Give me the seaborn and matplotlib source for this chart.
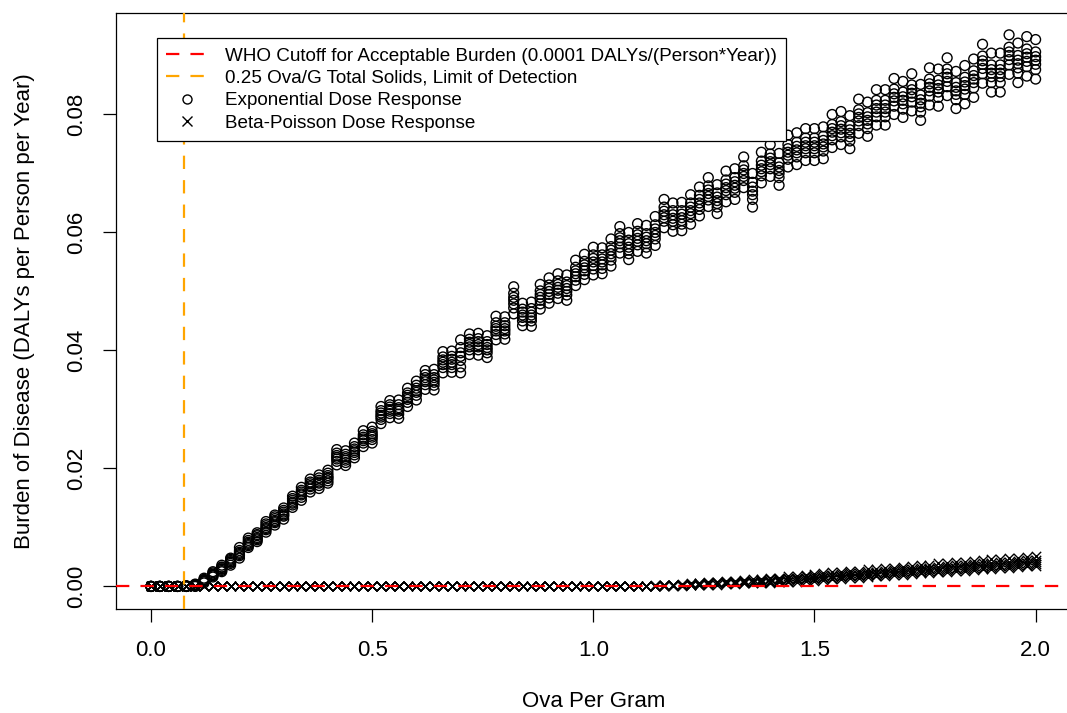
import matplotlib
matplotlib.use("Agg")
import matplotlib.pyplot as plt
from matplotlib.lines import Line2D
import numpy as np
import pandas as pd
import seaborn as sns

# ---------------- data ----------------
ova_per_gram = [
    0.00, 0.02, 0.04, 0.06, 0.08, 0.10, 0.12, 0.14, 0.16, 0.18,
    0.20, 0.22, 0.24, 0.26, 0.28, 0.30, 0.32, 0.34, 0.36, 0.38,
    0.40, 0.42, 0.44, 0.46, 0.48, 0.50, 0.52, 0.54, 0.56, 0.58,
    0.60, 0.62, 0.64, 0.66, 0.68, 0.70, 0.72, 0.74, 0.76, 0.78,
    0.80, 0.82, 0.84, 0.86, 0.88, 0.90, 0.92, 0.94, 0.96, 0.98,
    1.00, 1.02, 1.04, 1.06, 1.08, 1.10, 1.12, 1.14, 1.16, 1.18,
    1.20, 1.22, 1.24, 1.26, 1.28, 1.30, 1.32, 1.34, 1.36, 1.38,
    1.40, 1.42, 1.44, 1.46, 1.48, 1.50, 1.52, 1.54, 1.56, 1.58,
    1.60, 1.62, 1.64, 1.66, 1.68, 1.70, 1.72, 1.74, 1.76, 1.78,
    1.80, 1.82, 1.84, 1.86, 1.88, 1.90, 1.92, 1.94, 1.96, 1.98,
    2.00,
]

# Burden (x 1e-4 DALYs per person per year), replicate runs per dose
exponential_e4 = [
    [0, 0, 0, 0, 0, 0, 0], [0, 0, 0, 0, 0, 0, 0], [0, 0, 0, 0, 0, 0, 0],
    [0, 0, 0, 0, 0, 0, 0], [0, 0, 0, 0, 0, 1, 1], [0, 1, 1, 2, 2, 3, 4],
    [6, 8, 9, 10, 11, 12, 14], [16, 18, 19, 20, 21, 23, 25],
    [25, 27, 29, 30, 32, 33, 36], [36, 39, 41, 42, 44, 46, 48],
    [48, 52, 54, 56, 58, 61, 66], [66, 69, 71, 73, 75, 78, 82],
    [76, 79, 81, 83, 86, 88, 91], [92, 96, 98, 100, 103, 106, 110],
    [104, 108, 110, 112, 115, 118, 121], [114, 119, 121, 123, 126, 129, 133],
    [134, 138, 141, 143, 146, 149, 153], [146, 151, 155, 157, 160, 163, 168],
    [160, 165, 169, 171, 174, 177, 182], [166, 171, 175, 177, 180, 184, 189],
    [175, 179, 183, 185, 188, 192, 197], [206, 212, 216, 219, 222, 226, 232],
    [205, 210, 214, 217, 220, 224, 230], [218, 223, 227, 230, 233, 237, 243],
    [237, 243, 247, 250, 253, 257, 264], [243, 249, 253, 256, 259, 263, 270],
    [276, 283, 287, 290, 294, 298, 305], [286, 293, 297, 300, 304, 308, 315],
    [285, 292, 297, 300, 303, 308, 316], [305, 312, 317, 320, 324, 328, 336],
    [316, 324, 329, 332, 336, 341, 348], [334, 342, 347, 350, 354, 359, 366],
    [333, 341, 346, 350, 354, 359, 368], [362, 371, 376, 380, 384, 389, 398],
    [363, 371, 376, 380, 385, 390, 399], [362, 372, 383, 390, 396, 405, 418],
    [393, 401, 406, 410, 414, 419, 428], [392, 401, 406, 410, 415, 420, 429],
    [388, 396, 401, 405, 410, 415, 425], [418, 427, 433, 437, 441, 447, 458],
    [419, 428, 433, 437, 442, 447, 457], [462, 472, 479, 485, 490, 497, 508],
    [442, 450, 456, 460, 465, 470, 480], [441, 450, 455, 460, 465, 471, 482],
    [470, 479, 485, 490, 495, 501, 512], [480, 489, 495, 500, 505, 511, 523],
    [488, 497, 502, 507, 512, 518, 530], [485, 494, 500, 505, 510, 516, 528],
    [510, 519, 525, 530, 535, 541, 553], [520, 529, 535, 540, 545, 551, 563],
    [528, 538, 544, 550, 556, 562, 575], [530, 539, 545, 550, 555, 562, 574],
    [543, 553, 559, 564, 570, 576, 589], [565, 575, 581, 586, 591, 598, 610],
    [554, 564, 570, 575, 581, 587, 600], [568, 579, 585, 590, 596, 602, 615],
    [565, 575, 581, 586, 592, 598, 612], [578, 589, 595, 600, 606, 613, 627],
    [608, 619, 625, 630, 636, 643, 656], [602, 613, 619, 624, 630, 637, 650],
    [603, 614, 620, 625, 631, 637, 651], [614, 626, 632, 637, 643, 650, 664],
    [628, 639, 645, 650, 656, 663, 677], [644, 655, 661, 666, 672, 679, 693],
    [632, 643, 649, 654, 660, 667, 681], [652, 664, 671, 676, 682, 689, 704],
    [656, 668, 675, 680, 686, 693, 708], [676, 688, 695, 700, 706, 713, 728],
    [643, 656, 664, 670, 677, 685, 700], [684, 696, 703, 708, 714, 721, 736],
    [695, 708, 715, 720, 726, 733, 749], [680, 693, 700, 705, 711, 718, 734],
    [711, 724, 731, 736, 742, 749, 765], [715, 728, 735, 740, 746, 753, 769],
    [722, 735, 742, 747, 753, 760, 776], [722, 735, 742, 747, 753, 760, 776],
    [725, 738, 745, 750, 756, 763, 779], [744, 757, 764, 770, 776, 783, 800],
    [749, 762, 769, 775, 781, 788, 805], [742, 755, 762, 768, 774, 781, 798],
    [768, 781, 789, 795, 801, 808, 826], [763, 776, 784, 790, 796, 803, 821],
    [782, 796, 804, 810, 816, 824, 842], [782, 796, 804, 810, 816, 824, 842],
    [800, 814, 823, 829, 835, 843, 861], [795, 809, 818, 824, 830, 838, 856],
    [806, 821, 830, 836, 842, 850, 869], [790, 804, 813, 819, 825, 833, 851],
    [816, 831, 840, 846, 852, 860, 879], [814, 829, 838, 844, 850, 858, 877],
    [832, 847, 856, 863, 869, 877, 896], [810, 825, 834, 840, 846, 854, 873],
    [818, 834, 843, 849, 855, 863, 883], [829, 845, 854, 860, 866, 874, 894],
    [853, 869, 878, 885, 891, 899, 919], [838, 854, 864, 870, 876, 884, 904],
    [838, 854, 864, 870, 876, 884, 904], [868, 884, 893, 900, 906, 914, 935],
    [854, 870, 879, 886, 892, 900, 921], [865, 881, 890, 897, 903, 911, 932],
    [860, 876, 885, 892, 898, 906, 927],
]

beta_poisson_e4 = [[0, 0, 0, 0, 0]] * 55 + [
    [0, 0, 0, 0, 1], [0, 0, 1, 1, 1], [0, 1, 1, 1, 2], [1, 1, 2, 2, 3],
    [1, 2, 2, 3, 3], [1, 2, 3, 3, 4], [2, 3, 3, 4, 5], [2, 3, 4, 5, 6],
    [3, 4, 5, 6, 7], [3, 5, 6, 7, 8], [4, 5, 6, 8, 9], [4, 6, 7, 8, 10],
    [5, 6, 8, 9, 11], [5, 7, 8, 10, 12], [6, 8, 9, 11, 13], [6, 8, 10, 12, 14],
    [7, 9, 11, 13, 15], [8, 10, 12, 14, 17], [8, 11, 13, 15, 18], [9, 12, 14, 17, 20],
    [10, 13, 15, 18, 21], [11, 14, 16, 19, 22], [12, 15, 17, 20, 24], [13, 16, 18, 21, 25],
    [14, 17, 19, 22, 26], [15, 18, 20, 23, 27], [16, 19, 21, 24, 29], [17, 20, 22, 25, 30],
    [18, 21, 23, 27, 31], [19, 22, 24, 28, 32], [20, 23, 26, 29, 33], [21, 24, 27, 30, 35],
    [22, 25, 28, 31, 36], [23, 26, 29, 32, 37], [24, 27, 30, 33, 39], [25, 28, 31, 35, 40],
    [26, 29, 32, 36, 41], [27, 30, 33, 37, 42], [28, 31, 34, 38, 43], [29, 32, 35, 39, 45],
    [30, 33, 36, 40, 46], [31, 34, 37, 41, 47], [32, 35, 38, 42, 48], [33, 36, 39, 43, 49],
    [34, 37, 40, 44, 50], [35, 38, 41, 45, 51],
]

who_cutoff = 0.0001
detection_limit = 0.075

legend_labels = [
    "WHO Cutoff for Acceptable Burden (0.0001 DALYs/(Person*Year))",
    "0.25 Ova/G Total Solids, Limit of Detection",
    "Exponential Dose Response",
    "Beta-Poisson Dose Response",
]
x_ticks = [0.0, 0.5, 1.0, 1.5, 2.0]
y_ticks = [0.00, 0.02, 0.04, 0.06, 0.08]

# ---------------- long-form tables ----------------
exp_df = pd.DataFrame(
    [(x, v / 1e4) for x, reps in zip(ova_per_gram, exponential_e4) for v in reps],
    columns=["ova", "burden"],
)
bp_df = pd.DataFrame(
    [(x, v / 1e4) for x, reps in zip(ova_per_gram, beta_poisson_e4) for v in reps],
    columns=["ova", "burden"],
)

# ---------------- figure ----------------
sns.set_style("ticks")
plt.rcParams["font.family"] = ["Liberation Sans", "DejaVu Sans"]
plt.rcParams["text.color"] = "black"
plt.rcParams["axes.labelcolor"] = "black"

W, H = 1067, 713
fig = plt.figure(figsize=(W / 100, H / 100), dpi=100)
ax_l, ax_r, ax_t, ax_b = 115.6, 1071.0, 13.0, 608.5
ax = fig.add_axes([ax_l / W, 1 - ax_b / H, (ax_r - ax_l) / W, (ax_b - ax_t) / H])

sns.scatterplot(data=exp_df, x="ova", y="burden", ax=ax, marker="o",
                s=50, facecolors="none", edgecolor="black", linewidth=1.0,
                legend=False, zorder=2)
sns.scatterplot(data=bp_df, x="ova", y="burden", ax=ax, marker="x",
                s=45, color="black", linewidth=1.0, legend=False, zorder=2)

ax.axhline(who_cutoff, color="red", lw=1.6, dashes=(6, 5), zorder=3)
ax.axvline(detection_limit, color="orange", lw=1.6, dashes=(6, 5), zorder=3)

ax.set_xlim(-0.08, 2.08)
ax.set_ylim(-0.00374, 0.0972)
ax.set_xticks(x_ticks)
ax.set_xticklabels([f"{t:.1f}" for t in x_ticks])
ax.set_yticks(y_ticks)
ax.set_yticklabels([f"{t:.2f}" for t in y_ticks])
ax.tick_params(axis="both", which="major", direction="out", length=9.5, width=0.9,
               color="black", labelsize=16, labelcolor="black",
               bottom=True, left=True, top=False, right=False)
ax.tick_params(axis="x", pad=13)
ax.tick_params(axis="y", pad=11)
for lab in ax.get_yticklabels():
    lab.set_rotation(90)
    lab.set_va("center")

for sp in ax.spines.values():
    sp.set_visible(True)
    sp.set_color("black")
    sp.set_linewidth(0.9)

ax.set_xlabel("Ova Per Gram", fontsize=16, color="black")
ax.set_ylabel("Burden of Disease (DALYs per Person per Year)", fontsize=16, color="black")
ax.xaxis.set_label_coords(0.5, -0.139)
ax.yaxis.set_label_coords(-0.084, 0.5)

handles = [
    Line2D([], [], color="red", lw=1.6, dashes=(6, 5)),
    Line2D([], [], color="orange", lw=1.6, dashes=(6, 5)),
    Line2D([], [], ls="none", marker="o", markersize=6.5, markerfacecolor="none",
           markeredgecolor="black", markeredgewidth=1.0),
    Line2D([], [], ls="none", marker="x", markersize=6.5, color="black",
           markeredgewidth=1.0),
]
leg = ax.legend(handles, legend_labels, loc="upper left",
                bbox_to_anchor=((157 - ax_l) / (ax_r - ax_l), 1 - (38 - ax_t) / (ax_b - ax_t)),
                borderaxespad=0, fontsize=13.6, frameon=True, fancybox=False,
                framealpha=1, edgecolor="black", borderpad=0.5,
                handlelength=2.2, handletextpad=0.9, labelspacing=0.27)
leg.get_frame().set_linewidth(0.9)
for t in leg.get_texts():
    t.set_color("black")

fig.savefig("out.png", dpi=100)
